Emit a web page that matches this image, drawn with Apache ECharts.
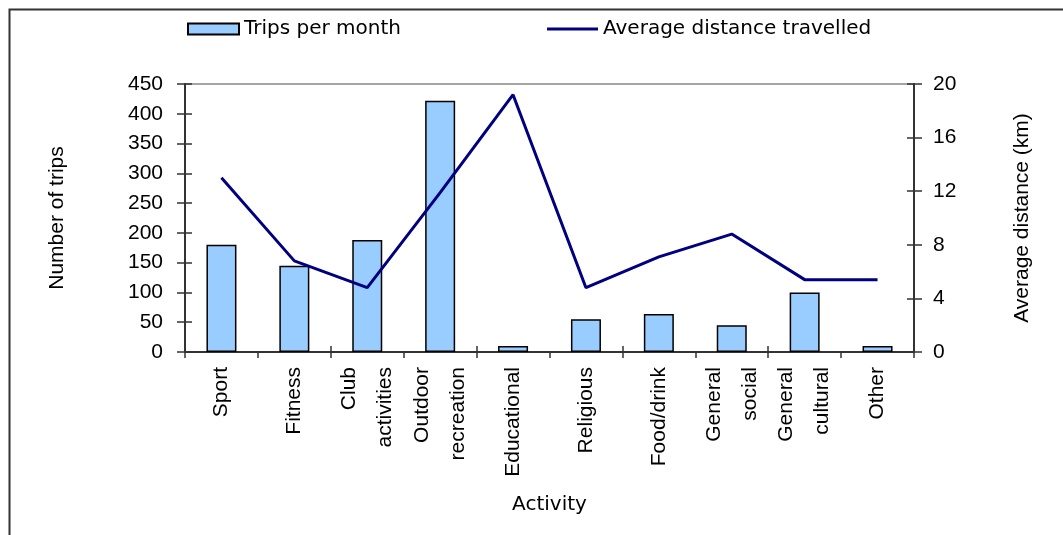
<!DOCTYPE html>
<html>
<head>
<meta charset="utf-8">
<script src="https://cdn.jsdelivr.net/npm/echarts@6/dist/echarts.min.js"></script>
<style>
  html, body { margin: 0; padding: 0; background: #fff; }
  #chart { width: 1063px; height: 535px; }
</style>
</head>
<body>
<div id="chart"></div>
<script>
// Activities on the category axis
const categories = ['Sport', 'Fitness', 'Club\nactivities', 'Outdoor\nrecreation', 'Educational',
  'Religious', 'Food/drink', 'General\nsocial', 'General\ncultural', 'Other'];
// Number of trips per month (left axis)
const tripsPerMonth = [180, 145, 188, 422, 10, 55, 64, 45, 100, 10];
// Average distance travelled in km (right axis)
const avgDistance = [13.0, 6.8, 4.8, 11.9, 19.2, 4.8, 7.1, 8.8, 5.4, 5.4];
// Axis ranges
const tripsAxis = { min: 0, max: 450, interval: 50 };
const distAxis = { min: 0, max: 20, interval: 4 };

const sans = 'Liberation Sans, Arial, sans-serif';
const wide = 'DejaVu Sans, sans-serif';
const axisColor = '#333';

const chart = echarts.init(document.getElementById('chart'));

// inside-facing tick axes, drawn on top of the main axes so ticks cross the line
function tickAxisY(range, pos) {
  return {
    type: 'value', position: pos, min: range.min, max: range.max, interval: range.interval,
    axisLine: { show: false },
    axisTick: { show: true, inside: true, length: 7, lineStyle: { color: axisColor, width: 1.5 } },
    axisLabel: { show: false }, splitLine: { show: false }
  };
}

chart.setOption({
  animation: false,
  backgroundColor: '#fff',
  graphic: [{
    type: 'rect', left: 7, top: 7, silent: true,
    shape: { x: 0, y: 0, width: 1200, height: 700 },
    style: { fill: 'none', stroke: '#333', lineWidth: 2 }
  }],
  legend: {
    left: 187, top: 19, padding: 0, itemGap: 146, itemWidth: 51, itemHeight: 11,
    textStyle: { fontFamily: wide, fontSize: 20, color: '#000' },
    data: [
      { name: 'Trips per month', icon: 'rect' },
      { name: 'Average distance travelled', icon: 'path://M0,0 H50 V3 H0 Z' }
    ]
  },
  grid: {
    left: 185, right: 149, top: 84, bottom: 183, containLabel: false,
    show: true, borderColor: '#888', borderWidth: 1.5
  },
  xAxis: [{
    type: 'category', data: categories, position: 'bottom',
    name: 'Activity', nameLocation: 'middle', nameGap: 143,
    nameTextStyle: { fontFamily: wide, fontSize: 20, color: '#000' },
    axisLine: { lineStyle: { color: axisColor, width: 2 } },
    axisTick: { show: true, length: 6, lineStyle: { color: axisColor, width: 1.5 } },
    axisLabel: { interval: 0, rotate: 90, margin: 15, fontFamily: sans, fontSize: 21,
      color: '#000', lineHeight: 36 }
  }, {
    type: 'category', data: categories, position: 'bottom',
    axisLine: { show: false },
    axisTick: { show: true, inside: true, length: 6, lineStyle: { color: axisColor, width: 1.5 } },
    axisLabel: { show: false }
  }],
  yAxis: [{
    type: 'value', position: 'left', min: tripsAxis.min, max: tripsAxis.max, interval: tripsAxis.interval,
    name: 'Number of trips', nameLocation: 'middle', nameGap: 117, nameRotate: 90,
    nameTextStyle: { fontFamily: sans, fontSize: 21, color: '#000' },
    axisLine: { show: true, lineStyle: { color: axisColor, width: 2 } },
    axisTick: { show: true, length: 8, lineStyle: { color: axisColor, width: 1.5 } },
    axisLabel: { margin: 22, fontFamily: sans, fontSize: 21, color: '#000' },
    splitLine: { show: false }
  }, {
    type: 'value', position: 'right', min: distAxis.min, max: distAxis.max, interval: distAxis.interval,
    name: 'Average distance (km)', nameLocation: 'middle', nameGap: 98, nameRotate: 90,
    nameTextStyle: { fontFamily: sans, fontSize: 21, color: '#000' },
    axisLine: { show: true, lineStyle: { color: axisColor, width: 2 } },
    axisTick: { show: true, length: 8, lineStyle: { color: axisColor, width: 1.5 } },
    axisLabel: { margin: 19, fontFamily: sans, fontSize: 21, color: '#000' },
    splitLine: { show: false }
  }, tickAxisY(tripsAxis, 'left'), tickAxisY(distAxis, 'right')],
  series: [{
    name: 'Trips per month', type: 'bar', xAxisIndex: 0, yAxisIndex: 0,
    data: tripsPerMonth, barWidth: 30,
    itemStyle: { color: '#99ccff', borderColor: '#000', borderWidth: 1.5 }
  }, {
    name: 'Average distance travelled', type: 'line', xAxisIndex: 0, yAxisIndex: 1,
    data: avgDistance, symbol: 'none',
    lineStyle: { color: '#000080', width: 3 },
    itemStyle: { color: '#000080' }
  }]
});
</script>
</body>
</html>
